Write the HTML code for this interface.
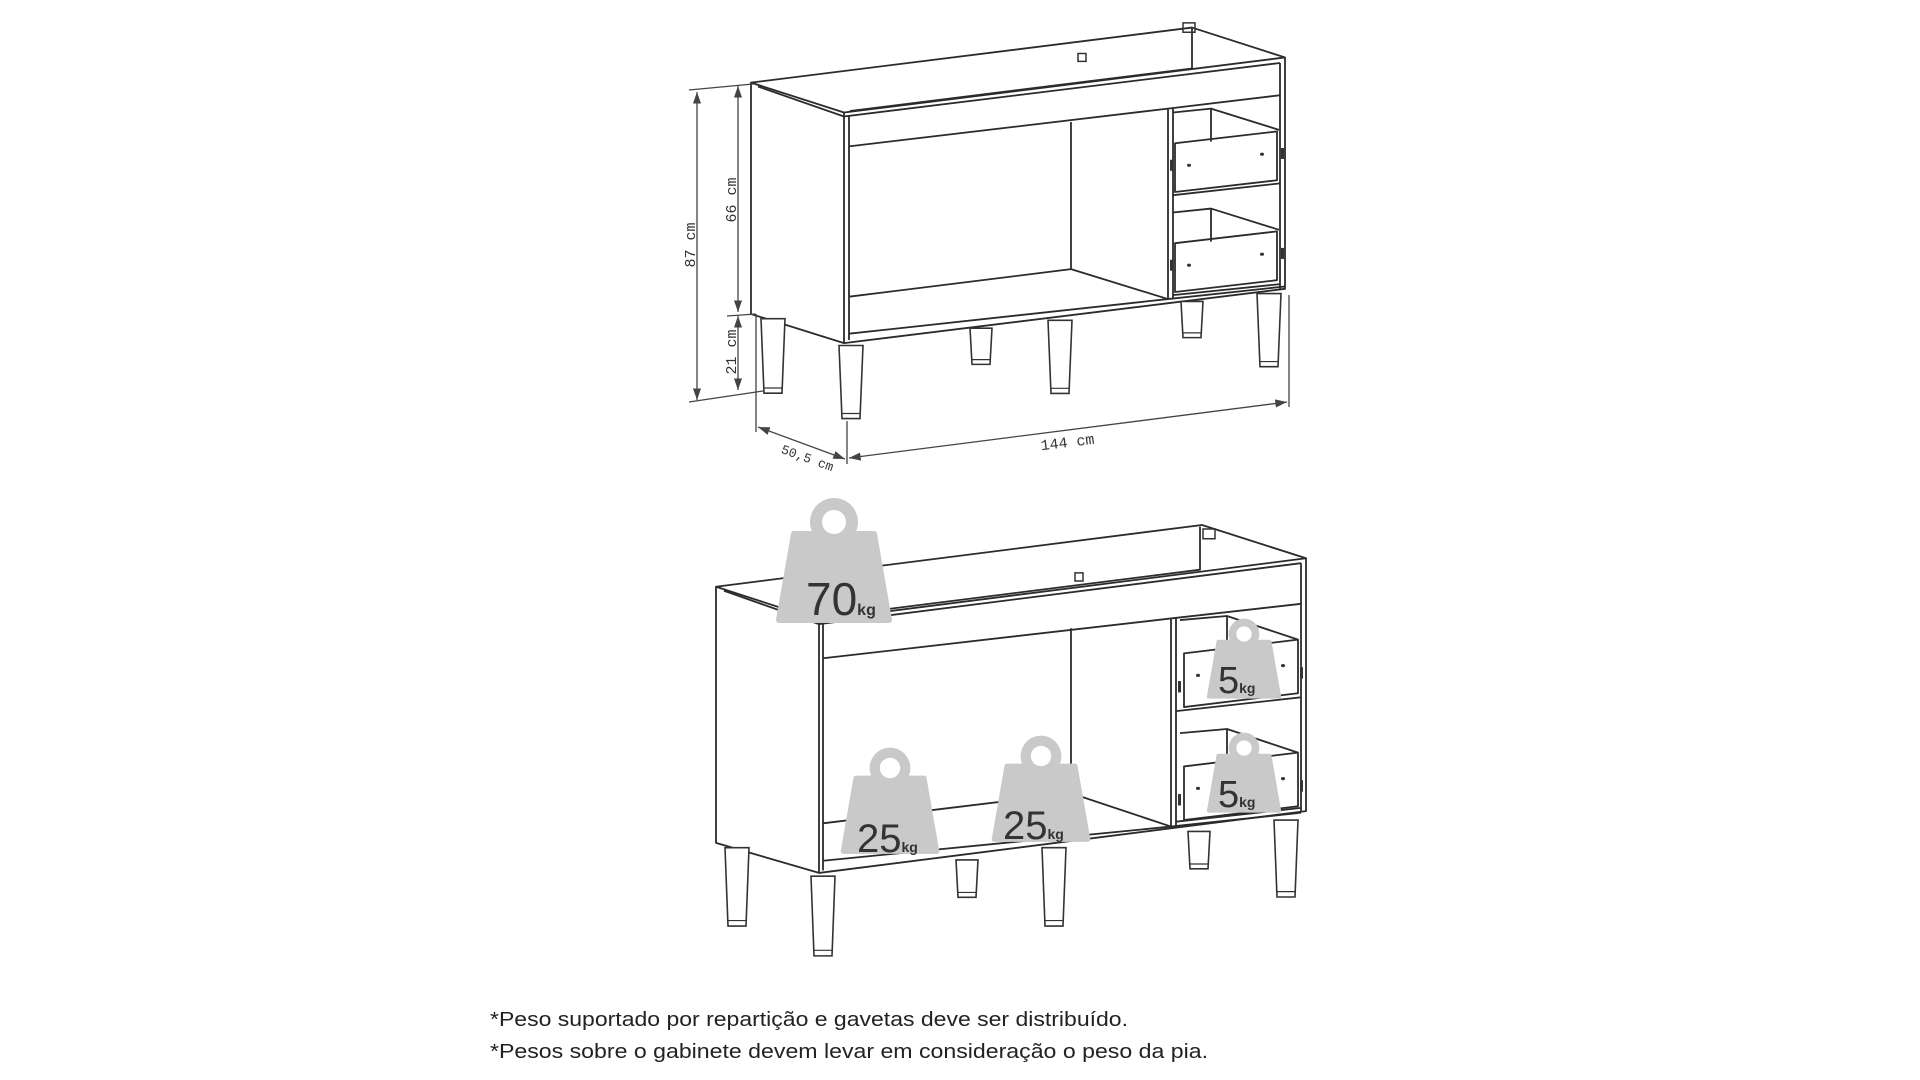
<!DOCTYPE html>
<html><head><meta charset="utf-8"><style>
html,body{margin:0;padding:0;background:#fff;}
svg{display:block;}
</style></head><body>
<svg width="1920" height="1080" viewBox="0 0 1920 1080" xmlns="http://www.w3.org/2000/svg">
<defs>
<marker id="ar" viewBox="0 0 10 10" refX="10" refY="5" markerWidth="9" markerHeight="9" orient="auto-start-reverse"><path d="M0,1.5 L10,5 L0,8.5 z" fill="#444"/></marker>
<g id="leg"><path d="M-12,0 L12,0 L9,86 L-9,86 Z" fill="#fff" stroke="#333" stroke-width="1.6" vector-effect="non-scaling-stroke"/><path d="M-9,80 L9,80" stroke="#333" stroke-width="1.2" vector-effect="non-scaling-stroke"/></g>
<g id="legs"><path d="M-11,0 L11,0 L9,46 L-9,46 Z" fill="#fff" stroke="#333" stroke-width="1.6" vector-effect="non-scaling-stroke"/><path d="M-9,40 L9,40" stroke="#333" stroke-width="1.2" vector-effect="non-scaling-stroke"/></g>
<g id="wt"><circle r="24"/><path d="M-40,12 L40,12 L55,98 L-55,98 Z" stroke="#c9c9c9" stroke-width="6" stroke-linejoin="round"/><circle r="12" fill="#fff"/></g>
</defs>

<!-- TOP CABINET -->
<g transform="matrix(1,0,0,0.787,0,0)">
<g fill="none" stroke="#2b2b2b" stroke-width="1.8" stroke-linejoin="round" vector-effect="non-scaling-stroke">
<g style="vector-effect:non-scaling-stroke">
<path vector-effect="non-scaling-stroke" d="M751,105 L1192,35 L1285,73 L844,143 Z"/>
<path vector-effect="non-scaling-stroke" d="M758,110 L844,148 L1280,80"/>
<path vector-effect="non-scaling-stroke" d="M1192,36 L1192,87 L850,141"/>
<path vector-effect="non-scaling-stroke" d="M751,105 L751,399 L844,436 L844,143"/>
<path vector-effect="non-scaling-stroke" d="M849,148 L849,432"/>
<path vector-effect="non-scaling-stroke" d="M1285,73 L1285,367 L844,436"/>
<path vector-effect="non-scaling-stroke" d="M1280,80 L1280,368"/>
<path vector-effect="non-scaling-stroke" d="M849,186 L1168,138"/>
<path vector-effect="non-scaling-stroke" d="M1071,155 L1071,342"/>
<path vector-effect="non-scaling-stroke" d="M849,377 L1071,342 L1168,380"/>
<path vector-effect="non-scaling-stroke" d="M849,424 L1168,380 L1285,364"/>
<path vector-effect="non-scaling-stroke" d="M1168,138 L1168,380 M1173,137 L1173,379 M1168,138 L1280,121"/>
<path vector-effect="non-scaling-stroke" d="M1173,143 L1211,138 L1279,165 M1211,138 L1211,180"/>
<path vector-effect="non-scaling-stroke" d="M1175,182 L1277,167 L1277,229 L1175,244 Z"/>
<path vector-effect="non-scaling-stroke" d="M1173,270 L1211,265 L1279,292 M1211,265 L1211,307"/>
<path vector-effect="non-scaling-stroke" d="M1175,309 L1277,294 L1277,356 L1175,371 Z"/>
<path vector-effect="non-scaling-stroke" d="M1173,248 L1280,233 M1173,375 L1280,361"/>
</g></g>
<g fill="#333">
<rect x="1183" y="29" width="12" height="12" fill="none" stroke="#333" stroke-width="1.5" vector-effect="non-scaling-stroke"/><rect x="1078" y="68" width="8" height="10" fill="none" stroke="#333" stroke-width="1.5" vector-effect="non-scaling-stroke"/>
<circle cx="1189" cy="210" r="2"/><circle cx="1262" cy="196" r="2"/><circle cx="1189" cy="337" r="2"/><circle cx="1262" cy="323" r="2"/>
<rect x="1170" y="203" width="3" height="14"/><rect x="1281" y="188" width="3" height="14"/><rect x="1170" y="330" width="3" height="14"/><rect x="1281" y="315" width="3" height="14"/>
</g>
<use href="#leg" transform="translate(773,405) scale(1,1.1)"/>
<use href="#leg" transform="translate(851,439) scale(1,1.08)"/>
<use href="#legs" transform="translate(981,417)"/>
<use href="#leg" transform="translate(1060,407) scale(1,1.08)"/>
<use href="#legs" transform="translate(1192,383)"/>
<use href="#leg" transform="translate(1269,373) scale(1,1.08)"/>
</g>

<!-- BOTTOM CABINET -->
<g transform="translate(0,490) scale(1,0.813) translate(0,-490)">
<g fill="none" stroke="#2b2b2b" stroke-width="1.8" stroke-linejoin="round">
<path vector-effect="non-scaling-stroke" d="M716,609 L1202,533 L1306,574 L819,650 Z"/>
<path vector-effect="non-scaling-stroke" d="M724,614 L819,655 L1301,580"/>
<path vector-effect="non-scaling-stroke" d="M1200,535 L1200,588 L826,646"/>
<path vector-effect="non-scaling-stroke" d="M716,609 L716,924 L819,961 L819,650"/>
<path vector-effect="non-scaling-stroke" d="M823,655 L823,958"/>
<path vector-effect="non-scaling-stroke" d="M1306,574 L1306,885 L819,961"/>
<path vector-effect="non-scaling-stroke" d="M1301,580 L1301,886"/>
<path vector-effect="non-scaling-stroke" d="M823,697 L1171,648"/>
<path vector-effect="non-scaling-stroke" d="M1071,660 L1071,863"/>
<path vector-effect="non-scaling-stroke" d="M823,900 L1071,863 L1171,904"/>
<path vector-effect="non-scaling-stroke" d="M823,946 L1171,904 L1301,887"/>
<path vector-effect="non-scaling-stroke" d="M1171,648 L1171,904 M1176,647 L1176,903 M1171,648 L1301,630"/>
<path vector-effect="non-scaling-stroke" d="M1180,650 L1227,645 L1298,674 M1227,645 L1227,688"/>
<path vector-effect="non-scaling-stroke" d="M1184,691 L1298,674 L1298,740 L1184,757 Z"/>
<path vector-effect="non-scaling-stroke" d="M1180,789 L1227,784 L1298,813 M1227,784 L1227,827"/>
<path vector-effect="non-scaling-stroke" d="M1184,830 L1298,813 L1298,879 L1184,896 Z"/>
<path vector-effect="non-scaling-stroke" d="M1176,762 L1301,745 M1176,898 L1301,881"/>
</g>
<g fill="#333">
<rect x="1203" y="538" width="12" height="12" fill="none" stroke="#333" stroke-width="1.5" vector-effect="non-scaling-stroke"/><rect x="1075" y="592" width="8" height="10" fill="none" stroke="#333" stroke-width="1.5" vector-effect="non-scaling-stroke"/>
<circle cx="1198" cy="718" r="2"/><circle cx="1283" cy="706" r="2"/><circle cx="1198" cy="857" r="2"/><circle cx="1283" cy="845" r="2"/>
<rect x="1178" y="725" width="3" height="14"/><rect x="1300" y="708" width="3" height="14"/><rect x="1178" y="864" width="3" height="14"/><rect x="1300" y="847" width="3" height="14"/>
</g>
<use href="#leg" transform="translate(737,930) scale(1,1.12)"/>
<use href="#leg" transform="translate(823,965) scale(1,1.14)"/>
<use href="#legs" transform="translate(967,945)"/>
<use href="#leg" transform="translate(1054,930) scale(1,1.12)"/>
<use href="#legs" transform="translate(1199,910)"/>
<use href="#leg" transform="translate(1286,896) scale(1,1.1)"/>
</g>

<!-- dimensions -->
<g stroke="#444" stroke-width="1.3" fill="none">
<path d="M689,90 L753,84"/>
<path d="M689,402 L763,391"/>
<path d="M727,316 L756,314"/>
<path d="M697,92 L697,400" marker-start="url(#ar)" marker-end="url(#ar)"/>
<path d="M738,86 L738,312" marker-start="url(#ar)" marker-end="url(#ar)"/>
<path d="M738,316 L738,390" marker-start="url(#ar)" marker-end="url(#ar)"/>
<path d="M756,314 L756,432 M847,421 L847,464 M1289,295 L1289,407"/>
<path d="M758,427 L845,459" marker-start="url(#ar)" marker-end="url(#ar)"/>
<path d="M849,458 L1287,402" marker-start="url(#ar)" marker-end="url(#ar)"/>
</g>
<g font-family="'Liberation Mono', monospace" font-size="15" fill="#333">
<text transform="translate(695,245) rotate(-90)" text-anchor="middle">87 cm</text>
<text transform="translate(736,200) rotate(-90)" text-anchor="middle">66 cm</text>
<text transform="translate(736,352) rotate(-90)" text-anchor="middle">21 cm</text>
<text transform="translate(806,462) rotate(20)" text-anchor="middle" font-size="13">50,5 cm</text>
<text transform="translate(1068,447) rotate(-7)" text-anchor="middle">144 cm</text>
</g>

<!-- weights -->
<g fill="#c9c9c9">
<use href="#wt" transform="translate(834,522)"/>
<use href="#wt" transform="translate(890,768) scale(0.85)"/>
<use href="#wt" transform="translate(1041,756) scale(0.85)"/>
<use href="#wt" transform="translate(1244,634) scale(0.64)"/>
<use href="#wt" transform="translate(1244,748) scale(0.64)"/>
</g>
<g font-family="'Liberation Sans', sans-serif" fill="#333">
<text x="806" y="615" font-size="46">70<tspan font-size="16" font-weight="bold">kg</tspan></text>
<text x="857" y="852" font-size="40">25<tspan font-size="14" font-weight="bold">kg</tspan></text>
<text x="1003" y="839" font-size="40">25<tspan font-size="14" font-weight="bold">kg</tspan></text>
<text x="1218" y="693" font-size="38">5<tspan font-size="14" font-weight="bold">kg</tspan></text>
<text x="1218" y="807" font-size="38">5<tspan font-size="14" font-weight="bold">kg</tspan></text>
</g>
<g font-family="'Liberation Sans', sans-serif" font-size="20" fill="#222">
<text x="490" y="1026" textLength="638" lengthAdjust="spacingAndGlyphs">*Peso suportado por repartição e gavetas deve ser distribuído.</text>
<text x="490" y="1058" textLength="718" lengthAdjust="spacingAndGlyphs">*Pesos sobre o gabinete devem levar em consideração o peso da pia.</text>
</g>
</svg>
</body></html>
